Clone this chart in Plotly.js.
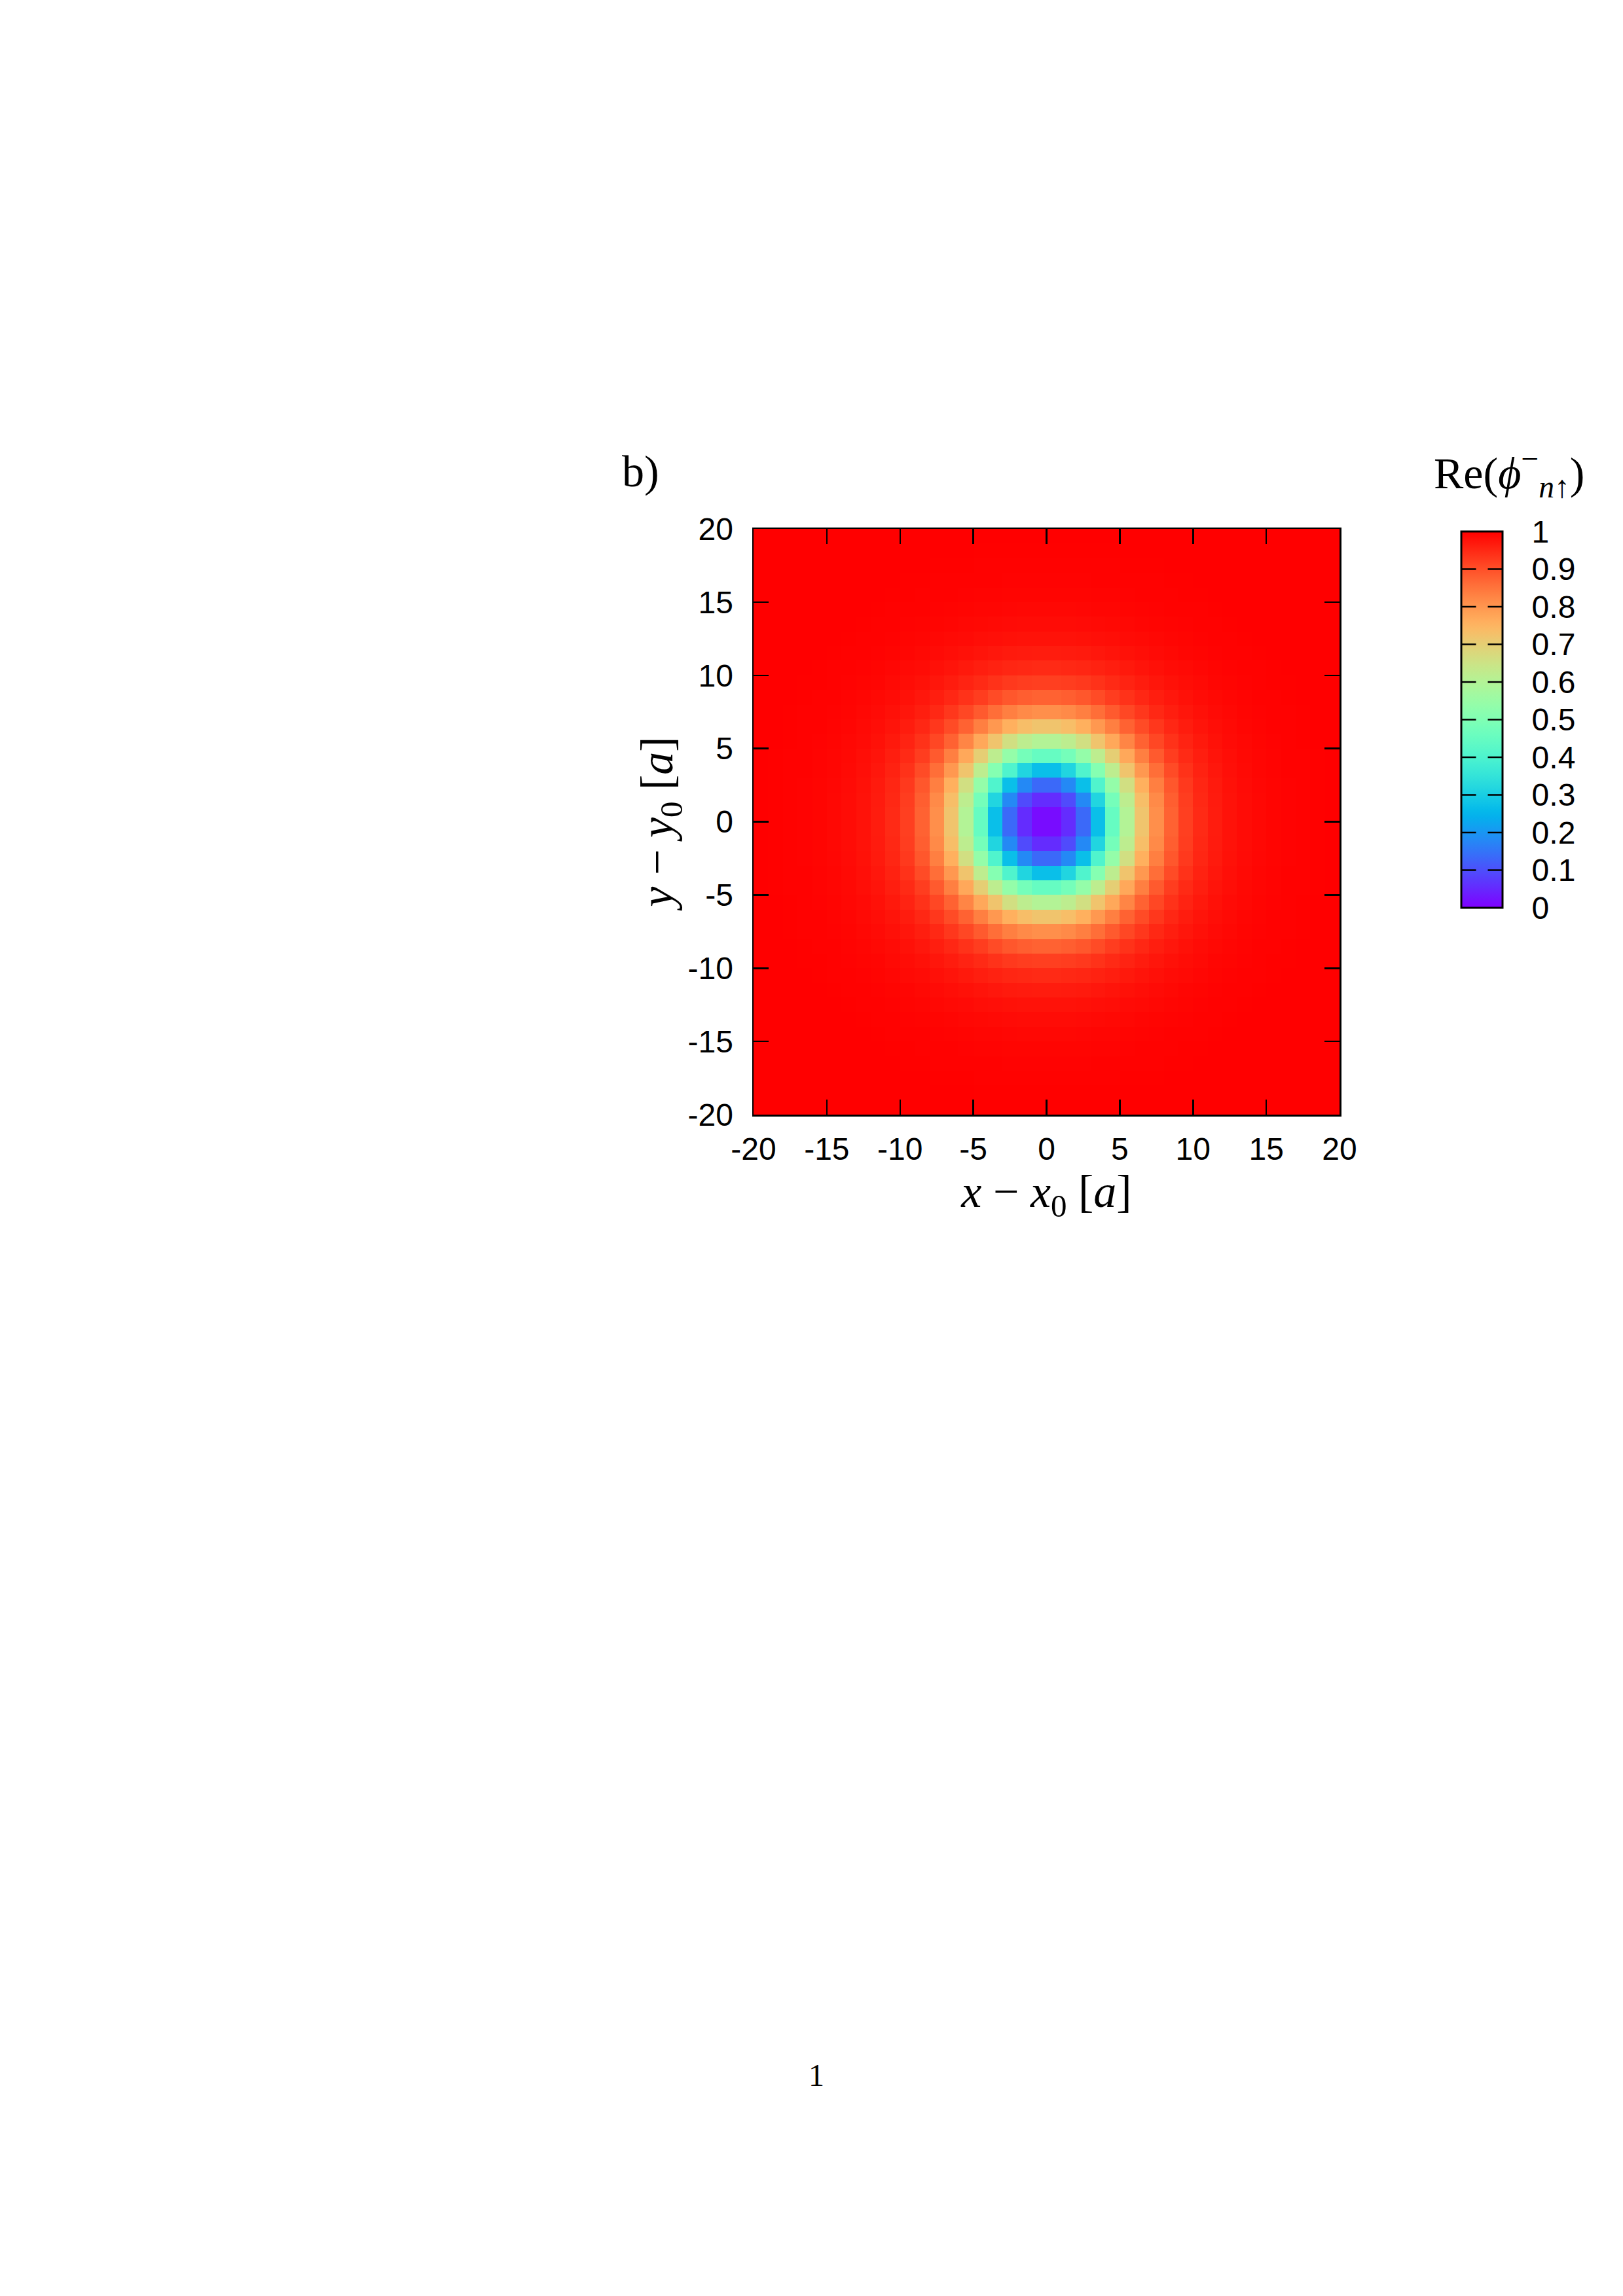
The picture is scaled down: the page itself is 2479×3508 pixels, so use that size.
<!DOCTYPE html>
<html>
<head>
<meta charset="utf-8">
<script src="https://cdn.plot.ly/plotly-3.0.1.min.js"></script>
<style>html,body{margin:0;padding:0;background:#fff;}</style>
</head>
<body>
<div id="chart"></div>
<script>
// ---- data ----
// cell centres (grid step 1 a)
const xCenters = [-19.5,-18.5,-17.5,-16.5,-15.5,-14.5,-13.5,-12.5,-11.5,-10.5,-9.5,-8.5,-7.5,-6.5,-5.5,-4.5,-3.5,-2.5,-1.5,-0.5,0.5,1.5,2.5,3.5,4.5,5.5,6.5,7.5,8.5,9.5,10.5,11.5,12.5,13.5,14.5,15.5,16.5,17.5,18.5,19.5];
const yCenters = [-19.5,-18.5,-17.5,-16.5,-15.5,-14.5,-13.5,-12.5,-11.5,-10.5,-9.5,-8.5,-7.5,-6.5,-5.5,-4.5,-3.5,-2.5,-1.5,-0.5,0.5,1.5,2.5,3.5,4.5,5.5,6.5,7.5,8.5,9.5,10.5,11.5,12.5,13.5,14.5,15.5,16.5,17.5,18.5,19.5];
// one quadrant of Re(phi): row = |y| cell index (0 = nearest centre), column = |x| cell index
const quadrant = [
[0.015,0.055,0.135,0.27,0.45,0.60,0.72,0.81,0.875,0.92,0.948,0.965,0.977,0.985,0.99,0.994,0.996,0.998,0.999,1.0],
[0.055,0.095,0.18,0.315,0.48,0.62,0.733,0.818,0.88,0.923,0.95,0.966,0.978,0.985,0.99,0.994,0.996,0.998,0.999,1.0],
[0.135,0.18,0.27,0.405,0.54,0.66,0.759,0.834,0.89,0.928,0.953,0.968,0.979,0.986,0.991,0.994,0.996,0.998,0.999,1.0],
[0.27,0.315,0.405,0.51,0.62,0.72,0.797,0.859,0.905,0.937,0.957,0.971,0.981,0.987,0.992,0.995,0.997,0.998,0.999,1.0],
[0.45,0.48,0.54,0.62,0.70,0.771,0.834,0.885,0.923,0.948,0.963,0.975,0.983,0.989,0.993,0.995,0.997,0.998,0.999,1.0],
[0.60,0.62,0.66,0.72,0.771,0.826,0.875,0.91,0.937,0.956,0.969,0.979,0.986,0.99,0.994,0.996,0.998,0.999,1.0,1.0],
[0.72,0.733,0.759,0.797,0.834,0.875,0.905,0.931,0.951,0.965,0.975,0.983,0.988,0.992,0.995,0.997,0.998,0.999,1.0,1.0],
[0.81,0.818,0.834,0.859,0.885,0.91,0.931,0.95,0.962,0.972,0.98,0.986,0.99,0.994,0.996,0.997,0.998,0.999,1.0,1.0],
[0.875,0.88,0.89,0.905,0.923,0.937,0.951,0.962,0.971,0.979,0.985,0.989,0.992,0.995,0.997,0.998,0.999,1.0,1.0,1.0],
[0.92,0.923,0.928,0.937,0.948,0.956,0.965,0.972,0.979,0.984,0.988,0.992,0.994,0.996,0.998,0.999,0.999,1.0,1.0,1.0],
[0.948,0.95,0.953,0.957,0.963,0.969,0.975,0.98,0.985,0.988,0.991,0.994,0.996,0.997,0.998,0.999,1.0,1.0,1.0,1.0],
[0.965,0.966,0.968,0.971,0.975,0.979,0.983,0.986,0.989,0.992,0.994,0.996,0.997,0.998,0.999,1.0,1.0,1.0,1.0,1.0],
[0.977,0.978,0.979,0.981,0.983,0.986,0.988,0.99,0.992,0.994,0.996,0.997,0.998,0.999,1.0,1.0,1.0,1.0,1.0,1.0],
[0.985,0.985,0.986,0.987,0.989,0.99,0.992,0.994,0.995,0.996,0.997,0.998,0.999,1.0,1.0,1.0,1.0,1.0,1.0,1.0],
[0.99,0.99,0.991,0.992,0.993,0.994,0.995,0.996,0.997,0.998,0.998,0.999,1.0,1.0,1.0,1.0,1.0,1.0,1.0,1.0],
[0.994,0.994,0.994,0.995,0.995,0.996,0.997,0.997,0.998,0.999,0.999,1.0,1.0,1.0,1.0,1.0,1.0,1.0,1.0,1.0],
[0.996,0.996,0.996,0.997,0.997,0.998,0.998,0.998,0.999,0.999,1.0,1.0,1.0,1.0,1.0,1.0,1.0,1.0,1.0,1.0],
[0.998,0.998,0.998,0.998,0.998,0.999,0.999,0.999,1.0,1.0,1.0,1.0,1.0,1.0,1.0,1.0,1.0,1.0,1.0,1.0],
[0.999,0.999,0.999,0.999,0.999,1.0,1.0,1.0,1.0,1.0,1.0,1.0,1.0,1.0,1.0,1.0,1.0,1.0,1.0,1.0],
[1.0,1.0,1.0,1.0,1.0,1.0,1.0,1.0,1.0,1.0,1.0,1.0,1.0,1.0,1.0,1.0,1.0,1.0,1.0,1.0]
];
const axisTickVals = [-20,-15,-10,-5,0,5,10,15,20];
const axisTickText = ["-20","-15","-10","-5","0","5","10","15","20"];
const cbTickVals = [0,0.1,0.2,0.3,0.4,0.5,0.6,0.7,0.8,0.9,1];
const cbTickText = ["0","0.1","0.2","0.3","0.4","0.5","0.6","0.7","0.8","0.9","1"];

// ---- build the full grid by mirroring the quadrant ----
function idx(c){ return Math.abs(c) - 0.5; }
const Z = yCenters.map(yc => xCenters.map(xc => quadrant[idx(yc)][idx(xc)]));

// gnuplot rgbformulae 33,13,10 palette
const clip = v => Math.max(0, Math.min(1, v));
const colorscale = [];
for (let k = 0; k <= 50; k++) {
  const t = k / 50;
  const r = clip(Math.abs(2*t - 0.5)), g = clip(Math.sin(Math.PI*t)), b = clip(Math.cos(Math.PI*t/2));
  colorscale.push([t, `rgb(${Math.round(r*255)},${Math.round(g*255)},${Math.round(b*255)})`]);
}

// ---- page geometry ----
const W = 2479, H = 3508;
const L = 1151, R = 433, T = 808, B = 1805;
const pw = W - L - R, ph = H - T - B;
const cbLeftPx = 2232, cbTopPx = 812, cbLenPx = 575, cbThick = 63, cbTickLen = 23;
const px2x = p => (p - L) / pw;
const py2y = p => (H - B - p) / ph;

const sansTick = {family: 'Liberation Sans, Arial, sans-serif', size: 48, color: '#000'};
const serif = 'Liberation Serif, Times New Roman, serif';

const trace = {
  type: 'heatmap',
  x: xCenters, y: yCenters, z: Z,
  zmin: 0, zmax: 1, zsmooth: false,
  colorscale: colorscale,
  hoverinfo: 'skip',
  colorbar: {
    x: px2x(cbLeftPx), xanchor: 'left',
    y: py2y(cbTopPx + cbLenPx/2), yanchor: 'middle',
    len: cbLenPx, lenmode: 'pixels',
    thickness: cbThick, thicknessmode: 'pixels',
    xpad: 0, ypad: 0,
    outlinewidth: 3, outlinecolor: '#000',
    ticks: 'outside', ticklen: 34, tickwidth: 1, tickcolor: 'rgba(0,0,0,0)',
    tickmode: 'array', tickvals: cbTickVals, ticktext: cbTickText,
    tickfont: sansTick
  }
};

// tick marks of the colour box on both inner sides (gnuplot style), drawn as headless arrows
const cbTickMarks = [];
cbTickVals.slice(1, -1).forEach(v => {
  const yp = py2y(cbTopPx + cbLenPx * (1 - v));
  [[px2x(cbLeftPx), cbTickLen], [px2x(cbLeftPx + cbThick), -cbTickLen]].forEach(([xp, off]) => {
    cbTickMarks.push({text: ' ', xref: 'paper', yref: 'paper', x: xp, y: yp,
      showarrow: true, arrowhead: 0, arrowwidth: 2.5, arrowcolor: '#000',
      ax: off, ay: 0, axref: 'pixel', ayref: 'pixel',
      standoff: 0, startstandoff: 0, borderpad: 0,
      font: {size: 1, color: 'rgba(0,0,0,0)'}});
  });
});

const axisCommon = {
  range: [-20, 20], autorange: false,
  tickmode: 'array', tickvals: axisTickVals, ticktext: axisTickText,
  ticks: 'inside', ticklen: 23, tickwidth: 2.5, tickcolor: '#000',
  showline: true, linewidth: 2.5, linecolor: '#000', mirror: 'ticks',
  showgrid: false, zeroline: false,
  tickfont: sansTick, automargin: false
};

const layout = {
  width: W, height: H, autosize: false,
  margin: {l: L, r: R, t: T, b: B, pad: 0},
  paper_bgcolor: '#fff', plot_bgcolor: '#fff',
  showlegend: false,
  xaxis: Object.assign({}, axisCommon, {
    ticklabelstandoff: 9,
    title: {text: '<i>x</i> − <i>x</i><sub>0</sub> [<i>a</i>]', font: {family: serif, size: 70, color: '#000'}, standoff: 12}
  }),
  yaxis: Object.assign({}, axisCommon, {
    ticklabelstandoff: 19,
    title: {text: '<i>y</i> − <i>y</i><sub>0</sub> [<i>a</i>]', font: {family: serif, size: 70, color: '#000'}, standoff: 0}
  }),
  annotations: [
    {text: 'b)', xref: 'paper', yref: 'paper', x: px2x(978), y: py2y(720),
     xanchor: 'center', yanchor: 'middle', showarrow: false,
     font: {family: serif, size: 68, color: '#000'}},
    {text: 'Re(<i>ϕ</i><sup>−</sup><sub><i>n</i>↑</sub>)', xref: 'paper', yref: 'paper',
     x: px2x(2305), y: py2y(722), xanchor: 'center', yanchor: 'middle', showarrow: false,
     font: {family: serif, size: 68, color: '#000'}},
    {text: '1', xref: 'paper', yref: 'paper', x: px2x(1247), y: py2y(3170),
     xanchor: 'center', yanchor: 'middle', showarrow: false,
     font: {family: serif, size: 48, color: '#000'}}
  ].concat(cbTickMarks)
};

Plotly.newPlot('chart', [trace], layout, {staticPlot: true, displayModeBar: false});
</script>
</body>
</html>
